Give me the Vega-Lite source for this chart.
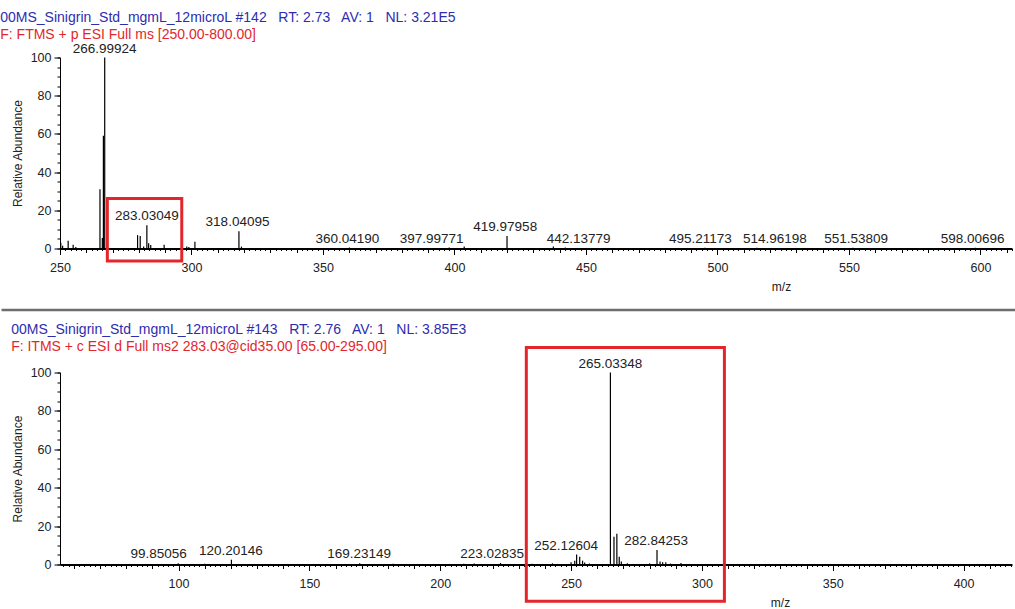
{
  "$schema": "https://vega.github.io/schema/vega-lite/v6.json",
  "autosize": {"type": "pad"},
  "padding": {"left": 0, "top": 10.5, "right": 0, "bottom": 0},
  "background": "white",
  "bounds": "flush",
  "spacing": 124,
  "config": {
    "font": "Liberation Sans",
    "view": {"stroke": null},
    "axis": {"labelFont": "Liberation Sans", "labelFontSize": 12.5, "labelColor": "#222", "titleFont": "Liberation Sans", "titleFontWeight": "normal", "titleFontSize": 12, "titleColor": "#222", "domainColor": "#000", "tickColor": "#000", "grid": false, "labelFlush": false},
    "title": {"font": "Liberation Sans", "subtitleFont": "Liberation Sans", "fontSize": 14, "subtitleFontSize": 14, "fontWeight": "normal", "color": "#2d2daf", "subtitleColor": "#e3262b", "anchor": "start", "frame": "bounds", "subtitlePadding": 3}
  },
  "datasets": {
    "top_peaks": [
      {"mz": 250.3, "ab": 3}, {"mz": 251.0, "ab": 1.5}, {"mz": 253.1, "ab": 4}, {"mz": 255.0, "ab": 2}, {"mz": 256.0, "ab": 0.8},
      {"mz": 265.2, "ab": 31}, {"mz": 266.1, "ab": 5.5}, {"mz": 266.5, "ab": 59}, {"mz": 266.99924, "ab": 100}, {"mz": 267.8, "ab": 19.5},
      {"mz": 279.5, "ab": 7}, {"mz": 280.5, "ab": 6.6}, {"mz": 281.8, "ab": 1}, {"mz": 283.03049, "ab": 12.2}, {"mz": 283.7, "ab": 2.8},
      {"mz": 284.5, "ab": 1.8}, {"mz": 289.6, "ab": 2}, {"mz": 298.2, "ab": 1}, {"mz": 299.0, "ab": 0.8}, {"mz": 301.3, "ab": 3.5},
      {"mz": 318.04095, "ab": 9}, {"mz": 319.0, "ab": 1}, {"mz": 360.0419, "ab": 0.5}, {"mz": 397.99771, "ab": 0.5}, {"mz": 403.7, "ab": 1},
      {"mz": 419.97958, "ab": 6.5}, {"mz": 437.6, "ab": 1}, {"mz": 442.13779, "ab": 0.5}, {"mz": 495.21173, "ab": 0.4},
      {"mz": 514.96198, "ab": 0.4}, {"mz": 551.53809, "ab": 0.4}, {"mz": 598.00696, "ab": 0.4}
    ],
    "top_labels": [
      {"label": "266.99924", "label_mz": 267.0, "ab": 100},
      {"label": "283.03049", "label_mz": 283.0, "ab": 12.2},
      {"label": "318.04095", "label_mz": 317.5, "ab": 9},
      {"label": "360.04190", "label_mz": 359.3, "ab": 0.5},
      {"label": "397.99771", "label_mz": 391.3, "ab": 0.5},
      {"label": "419.97958", "label_mz": 419.3, "ab": 6.5},
      {"label": "442.13779", "label_mz": 447.2, "ab": 0.5},
      {"label": "495.21173", "label_mz": 493.5, "ab": 0.5},
      {"label": "514.96198", "label_mz": 521.8, "ab": 0.5},
      {"label": "551.53809", "label_mz": 552.7, "ab": 0.5},
      {"label": "598.00696", "label_mz": 597.0, "ab": 0.5}
    ],
    "bottom_peaks": [
      {"mz": 99.85056, "ab": 0.6}, {"mz": 110.0, "ab": 0.4}, {"mz": 120.20146, "ab": 2.5}, {"mz": 150.0, "ab": 0.3},
      {"mz": 169.23149, "ab": 0.6}, {"mz": 182.0, "ab": 0.4}, {"mz": 209.0, "ab": 0.4}, {"mz": 213.0, "ab": 0.5},
      {"mz": 223.02835, "ab": 0.8}, {"mz": 235.0, "ab": 0.4}, {"mz": 242.9, "ab": 0.6}, {"mz": 250.0, "ab": 1.2},
      {"mz": 251.4, "ab": 2}, {"mz": 252.12604, "ab": 5.2}, {"mz": 253.3, "ab": 4}, {"mz": 254.4, "ab": 2},
      {"mz": 255.2, "ab": 1}, {"mz": 257.0, "ab": 0.5}, {"mz": 265.03348, "ab": 100}, {"mz": 266.4, "ab": 14.5},
      {"mz": 267.5, "ab": 16}, {"mz": 268.4, "ab": 4}, {"mz": 269.2, "ab": 1.5}, {"mz": 271.5, "ab": 0.6},
      {"mz": 280.0, "ab": 0.6}, {"mz": 282.84253, "ab": 7.5}, {"mz": 284.0, "ab": 1.5}, {"mz": 285.0, "ab": 1.2},
      {"mz": 286.2, "ab": 1.2}, {"mz": 288.0, "ab": 0.5}, {"mz": 292.0, "ab": 0.8}
    ],
    "bottom_labels": [
      {"label": "99.85056", "label_mz": 92.4, "ab": 0.6},
      {"label": "120.20146", "label_mz": 120.0, "ab": 2.5},
      {"label": "169.23149", "label_mz": 169.0, "ab": 0.6},
      {"label": "223.02835", "label_mz": 219.8, "ab": 0.8},
      {"label": "252.12604", "label_mz": 248.1, "ab": 5.2},
      {"label": "265.03348", "label_mz": 265.0, "ab": 100},
      {"label": "282.84253", "label_mz": 282.5, "ab": 7.5}
    ]
  },
  "vconcat": [
    {
      "width": 952,
      "height": 191,
      "title": {"text": "00MS_Sinigrin_Std_mgmL_12microL #142\u00a0\u00a0 RT: 2.73\u00a0\u00a0 AV: 1\u00a0\u00a0 NL: 3.21E5", "subtitle": "F: FTMS + p ESI Full ms [250.00-800.00]", "offset": 0},
      "resolve": {"axis": {"x": "independent", "y": "independent"}},
      "layer": [
        {
          "data": {"name": "top_peaks"},
          "mark": {"type": "rule", "color": "#000", "strokeWidth": 1.2},
          "encoding": {
            "x": {"field": "mz", "type": "quantitative", "scale": {"domain": [250, 612], "nice": false, "zero": false},
                  "axis": {"orient": "bottom", "tickCount": 8, "tickSize": 6, "domainWidth": 2, "labelPadding": 7, "title": "m/z", "titleX": 721, "titleY": 38, "titleAlign": "center", "titleBaseline": "middle"}},
            "y": {"field": "ab", "type": "quantitative", "scale": {"domain": [0, 100], "nice": false},
                  "axis": {"orient": "left", "values": [0, 20, 40, 60, 80, 100], "tickSize": 6, "labelPadding": 3, "title": "Relative Abundance", "titlePadding": 6}},
            "y2": {"datum": 0}
          }
        },
        {
          "data": {"name": "top_peaks"},
          "mark": {"type": "point", "opacity": 0},
          "encoding": {
            "x": {"field": "mz", "type": "quantitative", "scale": {"domain": [250, 612], "nice": false, "zero": false},
                  "axis": {"orient": "bottom", "tickCount": 36, "tickSize": 4, "labels": false, "domain": false, "title": null}},
            "y": {"field": "ab", "type": "quantitative", "scale": {"domain": [0, 100], "nice": false},
                  "axis": {"orient": "left", "values": [0, 5, 10, 15, 20, 25, 30, 35, 40, 45, 50, 55, 60, 65, 70, 75, 80, 85, 90, 95, 100], "tickSize": 3, "labels": false, "domain": false, "title": null}}
          }
        },
        {
          "data": {"name": "top_peaks"},
          "mark": {"type": "point", "opacity": 0},
          "encoding": {
            "x": {"field": "mz", "type": "quantitative", "scale": {"domain": [250, 612], "nice": false, "zero": false},
                  "axis": {"orient": "bottom", "tickCount": 181, "tickSize": 2, "labels": false, "domain": false, "title": null}},
            "y": {"field": "ab", "type": "quantitative", "scale": {"domain": [0, 100], "nice": false}, "axis": null}
          }
        },
        {
          "data": {"name": "top_labels"},
          "mark": {"type": "text", "baseline": "bottom", "dy": -2, "fontSize": 13.5, "color": "#222", "font": "Liberation Sans"},
          "encoding": {
            "x": {"field": "label_mz", "type": "quantitative", "scale": {"domain": [250, 612], "nice": false, "zero": false}, "axis": null},
            "y": {"field": "ab", "type": "quantitative", "scale": {"domain": [0, 100], "nice": false}, "axis": null},
            "text": {"field": "label"}
          }
        },
        {
          "data": {"values": [{}]},
          "mark": {"type": "rect", "fill": null, "fillOpacity": 0, "stroke": "#e3262b", "strokeWidth": 3},
          "encoding": {
            "x": {"datum": 268.0, "type": "quantitative", "scale": {"domain": [250, 612], "nice": false, "zero": false}, "axis": null},
            "x2": {"datum": 296.3},
            "y": {"datum": 26.2, "type": "quantitative", "scale": {"domain": [0, 100], "nice": false}, "axis": null},
            "y2": {"datum": -6.6}
          }
        },
        {
          "data": {"values": [{}]},
          "mark": {"type": "rule", "color": "#6e6e6e", "strokeWidth": 2.5},
          "encoding": {
            "x": {"datum": 227.76, "type": "quantitative", "scale": {"domain": [250, 612], "nice": false, "zero": false}, "axis": null},
            "x2": {"datum": 613.7},
            "y": {"datum": -32.2, "type": "quantitative", "scale": {"domain": [0, 100], "nice": false}, "axis": null}
          }
        }
      ]
    },
    {
      "width": 952,
      "height": 192,
      "title": {"text": "00MS_Sinigrin_Std_mgmL_12microL #143\u00a0\u00a0 RT: 2.76\u00a0\u00a0 AV: 1\u00a0\u00a0 NL: 3.85E3", "subtitle": "F: ITMS + c ESI d Full ms2 283.03@cid35.00 [65.00-295.00]", "offset": -8},
      "resolve": {"axis": {"x": "independent", "y": "independent"}},
      "layer": [
        {
          "data": {"name": "bottom_peaks"},
          "mark": {"type": "rule", "color": "#000", "strokeWidth": 1.2},
          "encoding": {
            "x": {"field": "mz", "type": "quantitative", "scale": {"domain": [54.7, 418.5], "nice": false, "zero": false},
                  "axis": {"orient": "bottom", "tickCount": 8, "tickSize": 6, "domainWidth": 2, "labelPadding": 7, "title": "m/z", "titleX": 720, "titleY": 38, "titleAlign": "center", "titleBaseline": "middle"}},
            "y": {"field": "ab", "type": "quantitative", "scale": {"domain": [0, 100], "nice": false},
                  "axis": {"orient": "left", "values": [0, 20, 40, 60, 80, 100], "tickSize": 6, "labelPadding": 3, "title": "Relative Abundance", "titlePadding": 6}},
            "y2": {"datum": 0}
          }
        },
        {
          "data": {"name": "bottom_peaks"},
          "mark": {"type": "point", "opacity": 0},
          "encoding": {
            "x": {"field": "mz", "type": "quantitative", "scale": {"domain": [54.7, 418.5], "nice": false, "zero": false},
                  "axis": {"orient": "bottom", "tickCount": 36, "tickSize": 4, "labels": false, "domain": false, "title": null}},
            "y": {"field": "ab", "type": "quantitative", "scale": {"domain": [0, 100], "nice": false},
                  "axis": {"orient": "left", "values": [0, 5, 10, 15, 20, 25, 30, 35, 40, 45, 50, 55, 60, 65, 70, 75, 80, 85, 90, 95, 100], "tickSize": 3, "labels": false, "domain": false, "title": null}}
          }
        },
        {
          "data": {"name": "bottom_peaks"},
          "mark": {"type": "point", "opacity": 0},
          "encoding": {
            "x": {"field": "mz", "type": "quantitative", "scale": {"domain": [54.7, 418.5], "nice": false, "zero": false},
                  "axis": {"orient": "bottom", "tickCount": 182, "tickSize": 2, "labels": false, "domain": false, "title": null}},
            "y": {"field": "ab", "type": "quantitative", "scale": {"domain": [0, 100], "nice": false}, "axis": null}
          }
        },
        {
          "data": {"name": "bottom_labels"},
          "mark": {"type": "text", "baseline": "bottom", "dy": -2, "fontSize": 13.5, "color": "#222", "font": "Liberation Sans"},
          "encoding": {
            "x": {"field": "label_mz", "type": "quantitative", "scale": {"domain": [54.7, 418.5], "nice": false, "zero": false}, "axis": null},
            "y": {"field": "ab", "type": "quantitative", "scale": {"domain": [0, 100], "nice": false}, "axis": null},
            "text": {"field": "label"}
          }
        },
        {
          "data": {"values": [{}]},
          "mark": {"type": "rect", "fill": null, "fillOpacity": 0, "stroke": "#e3262b", "strokeWidth": 3},
          "encoding": {
            "x": {"datum": 232.9, "type": "quantitative", "scale": {"domain": [54.7, 418.5], "nice": false, "zero": false}, "axis": null},
            "x2": {"datum": 308.6},
            "y": {"datum": 113, "type": "quantitative", "scale": {"domain": [0, 100], "nice": false}, "axis": null},
            "y2": {"datum": -19.2}
          }
        }
      ]
    }
  ]
}
